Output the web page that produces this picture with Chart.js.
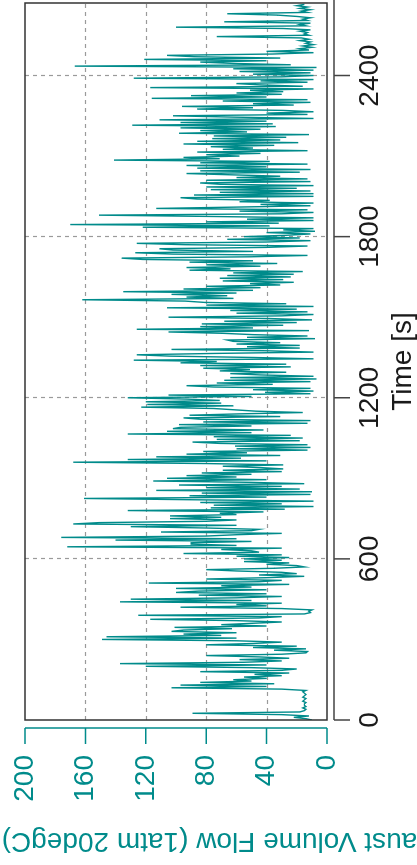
<!DOCTYPE html>
<html>
<head>
<meta charset="utf-8">
<script src="https://cdn.jsdelivr.net/npm/chart.js@4.4.1/dist/chart.umd.min.js"></script>
<style>
  html, body { margin: 0; padding: 0; background: #fff; overflow: hidden; }
  /* chart is drawn landscape and turned a quarter turn, like the reference */
  #wrap { position: absolute; left: 0; top: 0; width: 865px; height: 417px;
          transform-origin: 0 0; transform: translateY(865px) rotate(-90deg); }
</style>
</head>
<body>
<div id="wrap"><canvas id="chart" width="865" height="417"></canvas></div>
<script>
// Exhaust flow, one value every 5 s, one row = one minute
const stepSec = 5;
const flow0to10min = [
  10, 14, 22, 12, 30, 89, 18, 15, 14, 16, 14, 15,
  15, 14, 16, 15, 14, 16, 15, 14, 15, 16, 14, 30,
  103, 40, 97, 35, 84, 50, 62, 40, 55, 30, 48, 25,
  84, 30, 20, 50, 120, 40, 137, 55, 30, 58, 25, 45,
  80, 30, 14, 13, 35, 14, 49, 20, 80, 49, 30, 60,
  149, 60, 146, 70, 95, 60, 103, 95, 63, 101, 40, 70,
  50, 30, 60, 117, 45, 30, 125, 15, 11, 12, 10, 30,
  97, 40, 60, 30, 137, 50, 130, 60, 30, 85, 40, 100,
  85, 40, 100, 50, 70, 25, 118, 45, 30, 80, 40, 15,
  45, 20, 30, 60, 80, 35, 15, 20, 40, 25, 55, 30
];
const flow10to20min = [
  55, 25, 60, 30, 95, 45, 50, 70, 30, 172, 60, 90,
  90, 50, 140, 60, 176, 80, 60, 30, 110, 50, 45, 80,
  130, 60, 168, 151, 80, 60, 104, 70, 104, 60, 71, 42,
  132, 28, 77, 9, 75, 30, 84, 9, 86, 161, 40, 91,
  11, 83, 10, 113, 18, 80, 30, 98, 15, 51, 115, 40,
  106, 60, 93, 50, 83, 30, 69, 29, 44, 69, 29, 80,
  168, 40, 132, 57, 113, 31, 93, 53, 82, 13, 60, 11,
  61, 13, 71, 89, 18, 73, 16, 75, 24, 132, 50, 106,
  42, 102, 97, 50, 98, 13, 82, 11, 84, 95, 31, 91,
  58, 16, 47, 61, 75, 123, 62, 119, 70, 120, 71, 93
];
const flow20to30min = [
  132, 50, 105, 11, 41, 9, 49, 11, 75, 93, 36, 73,
  11, 68, 7, 64, 9, 44, 64, 27, 71, 51, 82, 24,
  84, 27, 97, 73, 128, 9, 49, 104, 126, 75, 9, 40,
  103, 18, 53, 18, 60, 31, 62, 66, 8, 53, 13, 49,
  69, 105, 12, 126, 49, 84, 29, 83, 20, 68, 10, 38,
  105, 30, 9, 60, 13, 64, 20, 106, 9, 80, 27, 81,
  94, 162, 62, 93, 66, 103, 60, 135, 49, 95, 44, 80,
  31, 51, 22, 69, 29, 71, 24, 66, 22, 62, 16, 91,
  64, 93, 44, 80, 33, 91, 49, 122, 136, 50, 13, 102,
  127, 49, 102, 111, 40, 13, 94, 126, 40, 11, 66, 18
];
const flow30to40min = [
  55, 27, 11, 40, 8, 29, 9, 122, 38, 170, 32, 80,
  9, 53, 9, 75, 151, 30, 9, 58, 13, 113, 60, 11,
  44, 9, 58, 38, 86, 97, 9, 88, 9, 71, 11, 77,
  20, 80, 9, 71, 84, 11, 80, 13, 60, 31, 62, 93,
  18, 84, 11, 86, 40, 93, 13, 84, 38, 141, 71, 95,
  58, 80, 44, 86, 13, 69, 49, 77, 35, 95, 19, 86,
  31, 76, 27, 75, 12, 98, 53, 84, 44, 97, 34, 129,
  36, 97, 40, 111, 9, 62, 102, 13, 40, 9, 29, 86,
  49, 96, 22, 49, 11, 69, 13, 116, 40, 90, 30, 60,
  29, 51, 9, 117, 16, 44, 60, 13, 44, 9, 128, 30
];
const flow40minToEnd = [
  9, 49, 11, 58, 9, 62, 7, 167, 24, 62, 84, 40,
  121, 31, 88, 106, 36, 9, 40, 12, 18, 10, 16, 9,
  14, 11, 18, 12, 17, 73, 12, 15, 13, 18, 11, 29,
  100, 14, 18, 11, 68, 13, 16, 11, 20, 33, 66, 13,
  17, 11, 18, 13, 20, 15
];

const timeTicks = [0, 600, 1200, 1800, 2400];
const flowTicks = [0, 40, 80, 120, 160, 200];
const timeMax = 2670;

const flow = [].concat(flow0to10min, flow10to20min, flow20to30min, flow30to40min, flow40minToEnd);
const points = flow.map((v, i) => ({ x: i * stepSec, y: v }));

const teal = '#008b8b';
const fontFamily = "'Liberation Sans', Arial, Helvetica, sans-serif";
Chart.defaults.font.family = fontFamily;

// grid, frame, offset axes and the long y title
const framePlugin = {
    id: 'framePlugin',
    beforeDatasetsDraw(chart) {
        const { ctx, chartArea: a, scales: { x, y } } = chart;
        ctx.save();
        ctx.strokeStyle = '#9a9a9a';
        ctx.lineWidth = 1.2;
        ctx.setLineDash([4, 4]);
        timeTicks.slice(1).forEach(function (t) {
            const px = Math.round(x.getPixelForValue(t)) + 0.5;
            ctx.beginPath(); ctx.moveTo(px, a.top); ctx.lineTo(px, a.bottom); ctx.stroke();
        });
        flowTicks.slice(1, -1).forEach(function (v) {
            const py = Math.round(y.getPixelForValue(v)) + 0.5;
            ctx.beginPath(); ctx.moveTo(a.left, py); ctx.lineTo(a.right, py); ctx.stroke();
        });
        ctx.restore();
    },
    afterDraw(chart) {
        const { ctx, chartArea: a, scales: { x, y } } = chart;
        ctx.save();
        // box
        ctx.strokeStyle = '#333';
        ctx.lineWidth = 1.5;
        ctx.strokeRect(a.left, a.top, a.right - a.left, a.bottom - a.top);

        // value axis (teal), set off from the box
        const ax = a.left - 8;
        ctx.strokeStyle = teal;
        ctx.lineWidth = 1.5;
        ctx.beginPath();
        ctx.moveTo(ax, y.getPixelForValue(flowTicks[0]));
        ctx.lineTo(ax, y.getPixelForValue(flowTicks[flowTicks.length - 1]));
        flowTicks.forEach(function (v) {
            const py = y.getPixelForValue(v);
            ctx.moveTo(ax, py); ctx.lineTo(ax - 16, py);
        });
        ctx.stroke();

        // time axis
        const ay = a.bottom + 7;
        ctx.strokeStyle = '#444';
        ctx.beginPath();
        ctx.moveTo(x.getPixelForValue(0), ay);
        ctx.lineTo(chart.width, ay);
        timeTicks.forEach(function (t) {
            const px = x.getPixelForValue(t);
            ctx.moveTo(px, ay); ctx.lineTo(px, ay + 16);
        });
        ctx.stroke();

        // y title, runs past the canvas like the reference
        ctx.translate(32, (a.top + a.bottom) / 2);
        ctx.rotate(-Math.PI / 2);
        ctx.fillStyle = teal;
        ctx.font = '28px ' + fontFamily;
        ctx.textAlign = 'center';
        ctx.textBaseline = 'alphabetic';
        ctx.fillText('Exhaust Volume Flow (1atm 20degC) [m3/min]', 0, 0);
        ctx.restore();
    }
};

const ctx = document.getElementById('chart').getContext('2d');
new Chart(ctx, {
    type: 'line',
    data: {
        datasets: [{
            data: points,
            borderColor: teal,
            borderWidth: 1.4,
            pointRadius: 0,
            tension: 0,
            fill: false
        }]
    },
    options: {
        responsive: false,
        devicePixelRatio: 1,
        animation: false,
        layout: { padding: { top: 25, right: 3, left: 0, bottom: 0 } },
        plugins: {
            legend: { display: false },
            tooltip: { enabled: false }
        },
        scales: {
            x: {
                type: 'linear',
                min: 0,
                max: timeMax,
                afterFit: function (s) { s.height = 90; },
                afterBuildTicks: function (s) { s.ticks = timeTicks.map(v => ({ value: v })); },
                grid: { display: false, drawTicks: false },
                border: { display: false },
                ticks: {
                    font: { size: 28 },
                    color: '#1a1a1a',
                    padding: 26,
                    maxRotation: 0,
                    autoSkip: false,
                    callback: v => String(v)
                },
                title: {
                    display: true,
                    text: 'Time [s]',
                    font: { size: 28 },
                    color: '#1a1a1a',
                    padding: { top: 0, bottom: -3 }
                }
            },
            y: {
                type: 'linear',
                min: 0,
                max: 200,
                afterFit: function (s) {
                    s.width = 145;
                    // labels sit inside the top margin; keep them from pushing the box down
                    s.paddingTop = 0;
                    s.paddingBottom = 0;
                },
                afterBuildTicks: function (s) { s.ticks = flowTicks.map(v => ({ value: v })); },
                grid: { display: false, drawTicks: false },
                border: { display: false },
                ticks: {
                    font: { size: 28 },
                    color: teal,
                    padding: 35,
                    callback: v => String(v)
                }
            }
        }
    },
    plugins: [framePlugin]
});
</script>
</body>
</html>
